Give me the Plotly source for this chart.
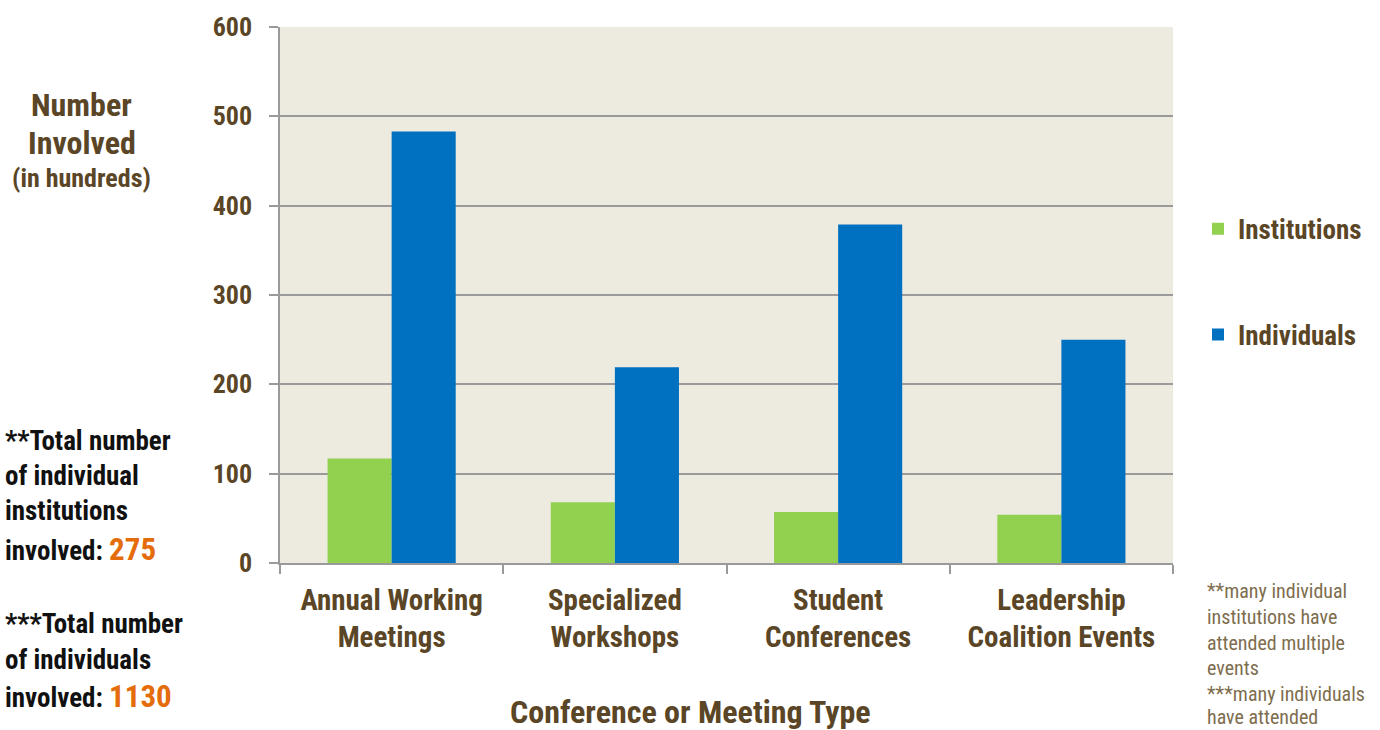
import plotly.graph_objects as go

categories = ["Annual Working<br>Meetings", "Specialized<br>Workshops", "Student<br>Conferences", "Leadership<br>Coalition Events"]
institutions = [117, 68, 57, 54]
individuals = [483, 219, 379, 250]
y_ticks = [0, 100, 200, 300, 400, 500, 600]
series_names = ["Institutions", "Individuals"]

FONT = "Liberation Sans Narrow, Arial Narrow, Roboto Condensed, Liberation Sans, sans-serif"
BROWN = "#5A4626"
GREEN = "#92D050"
BLUE = "#0070C0"
ORANGE = "#E46C0A"

L, R, T, B = 280, 1173, 25, 563
W, H = 1380, 730


def px(x):
    return (x - L) / (R - L)


def py(y):
    return (B - y) / (B - T)


fig = go.Figure()
fig.add_trace(go.Bar(x=categories, y=institutions, name=series_names[0],
                     marker=dict(color=GREEN, line=dict(width=0)), legend="legend"))
fig.add_trace(go.Bar(x=categories, y=individuals, name=series_names[1],
                     marker=dict(color=BLUE, line=dict(width=0)), legend="legend2"))

legend_common = dict(font=dict(family=FONT, size=27, color=BROWN, weight="bold"), bgcolor="rgba(0,0,0,0)",
                     xanchor="left", yanchor="middle", xref="paper", yref="paper",
                     itemwidth=30)

fig.update_layout(
    width=W, height=H,
    margin=dict(l=L, r=W - R, t=T, b=H - B, pad=0),
    paper_bgcolor="white",
    plot_bgcolor="#EDEAE0",
    barmode="group",
    bargap=0.426,
    bargroupgap=0,
    showlegend=True,
    legend=dict(x=px(1198), y=py(228), **legend_common),
    legend2=dict(x=px(1198), y=py(334), **legend_common),
    font=dict(family=FONT, color=BROWN),
    xaxis=dict(
        tickson="boundaries", ticks="outside", ticklen=9, tickcolor="#9A9A9A", tickwidth=1.5,
        showline=True, linecolor="#9A9A9A", linewidth=1.5, showgrid=False,
        tickfont=dict(family=FONT, size=29, color=BROWN, weight="bold"),
        ticklabelstandoff=10,
    ),
    yaxis=dict(
        range=[0, 600], tickvals=y_ticks, ticktext=[str(v) for v in y_ticks],
        ticks="outside", ticklen=9, tickcolor="#9A9A9A", tickwidth=1.5,
        showline=True, linecolor="#9A9A9A", linewidth=1.5,
        showgrid=True, gridcolor="#9A9A9A", gridwidth=1.5,
        zeroline=False,
        tickfont=dict(family=FONT, size=26, color=BROWN, weight="bold"),
        ticklabelstandoff=12,
    ),
)

ann = []
# y-axis title
ann.append(dict(x=px(81), y=py(103), text="<b>Number</b>", font=dict(size=32, color=BROWN)))
ann.append(dict(x=px(82), y=py(141), text="<b>Involved</b>", font=dict(size=32, color=BROWN)))
ann.append(dict(x=px(81), y=py(177), text="<b>(in hundreds)</b>", font=dict(size=26, color=BROWN)))
# x-axis title
ann.append(dict(x=px(690), y=py(713), text="<b>Conference or Meeting Type</b>", font=dict(size=32, color=BROWN)))

# left totals
left_lines = [
    (441, "<b>**Total number</b>"),
    (476, "<b>of individual</b>"),
    (511, "<b>institutions</b>"),
    (549, "<b>involved: </b><b style='color:%s;font-size:31px'>275</b>" % ORANGE),
    (624, "<b>***Total number</b>"),
    (660, "<b>of individuals</b>"),
    (697, "<b>involved: </b><b style='color:%s;font-size:31px'>1130</b>" % ORANGE),
]
for y, t in left_lines:
    ann.append(dict(x=px(3), y=py(y), text=t, xanchor="left", font=dict(size=27, color="#111111")))

# right footnotes
foot = ["**many individual", "institutions have", "attended multiple", "events",
        "***many individuals", "have attended"]
foot_y = [591, 617, 643, 668, 694, 718]
for y, t in zip(foot_y, foot):
    ann.append(dict(x=px(1205), y=py(y), text=t, xanchor="left", font=dict(size=20, color="#7E6D4E")))

for a in ann:
    a.setdefault("xanchor", "center")
    a.update(xref="paper", yref="paper", yanchor="middle", showarrow=False)
    a["font"]["family"] = FONT
fig.update_layout(annotations=ann)

fig.write_html("out.html", config={"displayModeBar": False},
               post_script="document.body.style.margin='0';document.body.style.padding='0';")
